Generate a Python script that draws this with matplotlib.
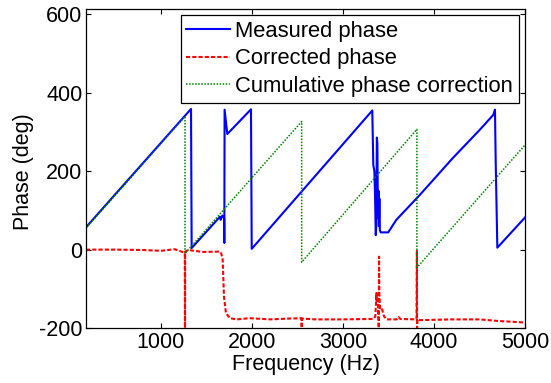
import matplotlib
matplotlib.use("Agg")
import matplotlib.pyplot as plt

plt.rcParams['font.family'] = ['Liberation Sans', 'DejaVu Sans']
plt.rcParams['axes.unicode_minus'] = False

# Measured phase (blue), breakpoints
meas_f = [176, 1330, 1337, 1648, 1656, 1674, 1694, 1696, 1699, 1729, 1989, 1997,
          3322, 3333, 3345, 3352, 3360, 3366, 3372, 3378, 3384, 3390, 3395, 3400,
          3405, 3414, 3497, 3586, 3846, 4200, 4500, 4652, 4660, 4670, 4678, 4696, 5000]
meas_v = [57, 359, 4, 84, 76, 87, 80, 17, 357, 295, 358, 2,
          355, 216, 200, 140, 37, 60, 286, 270, 80, 150, 60, 130,
          50, 44, 44, 76, 140, 232, 305, 344, 350, 357, 225, 5, 82]

# Corrected phase (red)
corr_f = [176, 500, 800, 1000, 1150, 1262, 1264, 1266, 1300, 1465, 1648, 1665,
          1678, 1692, 1714, 1758, 1832, 1976, 2200, 2400, 2543, 2546, 2549,
          2700, 3000, 3300, 3340, 3355, 3362, 3366, 3370, 3374, 3386, 3393, 3396,
          3399, 3408, 3425, 3450, 3480, 3590, 3610, 3630, 3808, 3812, 3814, 3818,
          3850, 4200, 4500, 4700, 5000]
corr_v = [0, 0, -1, -3, 1, -8, -200, -5, -1, -6, -5, -12,
          -26, -120, -162, -175, -178, -175, -178, -176, -175, -200, -176,
          -178, -178, -177, -176, -170, -140, -111, -130, -112, -150, -200, -18,
          -110, -150, -148, -170, -178, -178, -172, -177, -178, -3, -200, -178,
          -180, -178, -178, -182, -186]

# Cumulative phase correction (green)
cum_f = [176, 1264, 1264, 2546, 2546, 3812, 3812, 5000]
cum_v = [55, 340, -10, 327, -32, 307, -46, 267]

labels = ['Measured phase', 'Corrected phase', 'Cumulative phase correction']
xticks = [1000, 2000, 3000, 4000, 5000]
yticks = [-200, 0, 200, 400, 600]

fig = plt.figure(figsize=(5.51, 3.83), dpi=100)
ax = fig.add_axes([86/551, 1-328/383, (525-86)/551, (328-9)/383])

ax.plot(meas_f, meas_v, color=(0, 0, 1), lw=1.5, label=labels[0])
ax.plot(corr_f, corr_v, color=(1, 0, 0), lw=1.5, dashes=(2, 1), label=labels[1])
ax.plot(cum_f, cum_v, color=(0, 0.5, 0), lw=1.1, dashes=(1, 1), label=labels[2])

ax.set_xlim(176, 5000)
ax.set_ylim(-200, 614)
ax.set_xticks(xticks)
ax.set_yticks(yticks)
fs = 15.5
ax.tick_params(direction='in', length=3.6, width=0.8, top=True, right=True,
               labelsize=fs)
ax.tick_params(axis='x', pad=3.0)
ax.tick_params(axis='y', pad=2.5)
for s in ax.spines.values():
    s.set_linewidth(0.9)

ax.set_xlabel('Frequency (Hz)', fontsize=fs)
ax.set_ylabel('Phase (deg)', fontsize=fs)
ax.xaxis.set_label_coords(0.5, -0.082)
ax.yaxis.set_label_coords(-0.118, 0.49)

leg = ax.legend(loc='upper right', fontsize=15.8, handlelength=2.0,
                handletextpad=0.23, labelspacing=0.3, borderpad=0.27,
                borderaxespad=0.27, fancybox=False, framealpha=1)
leg.get_frame().set_edgecolor('black')
leg.get_frame().set_linewidth(0.9)

fig.savefig('out.png', dpi=100)
